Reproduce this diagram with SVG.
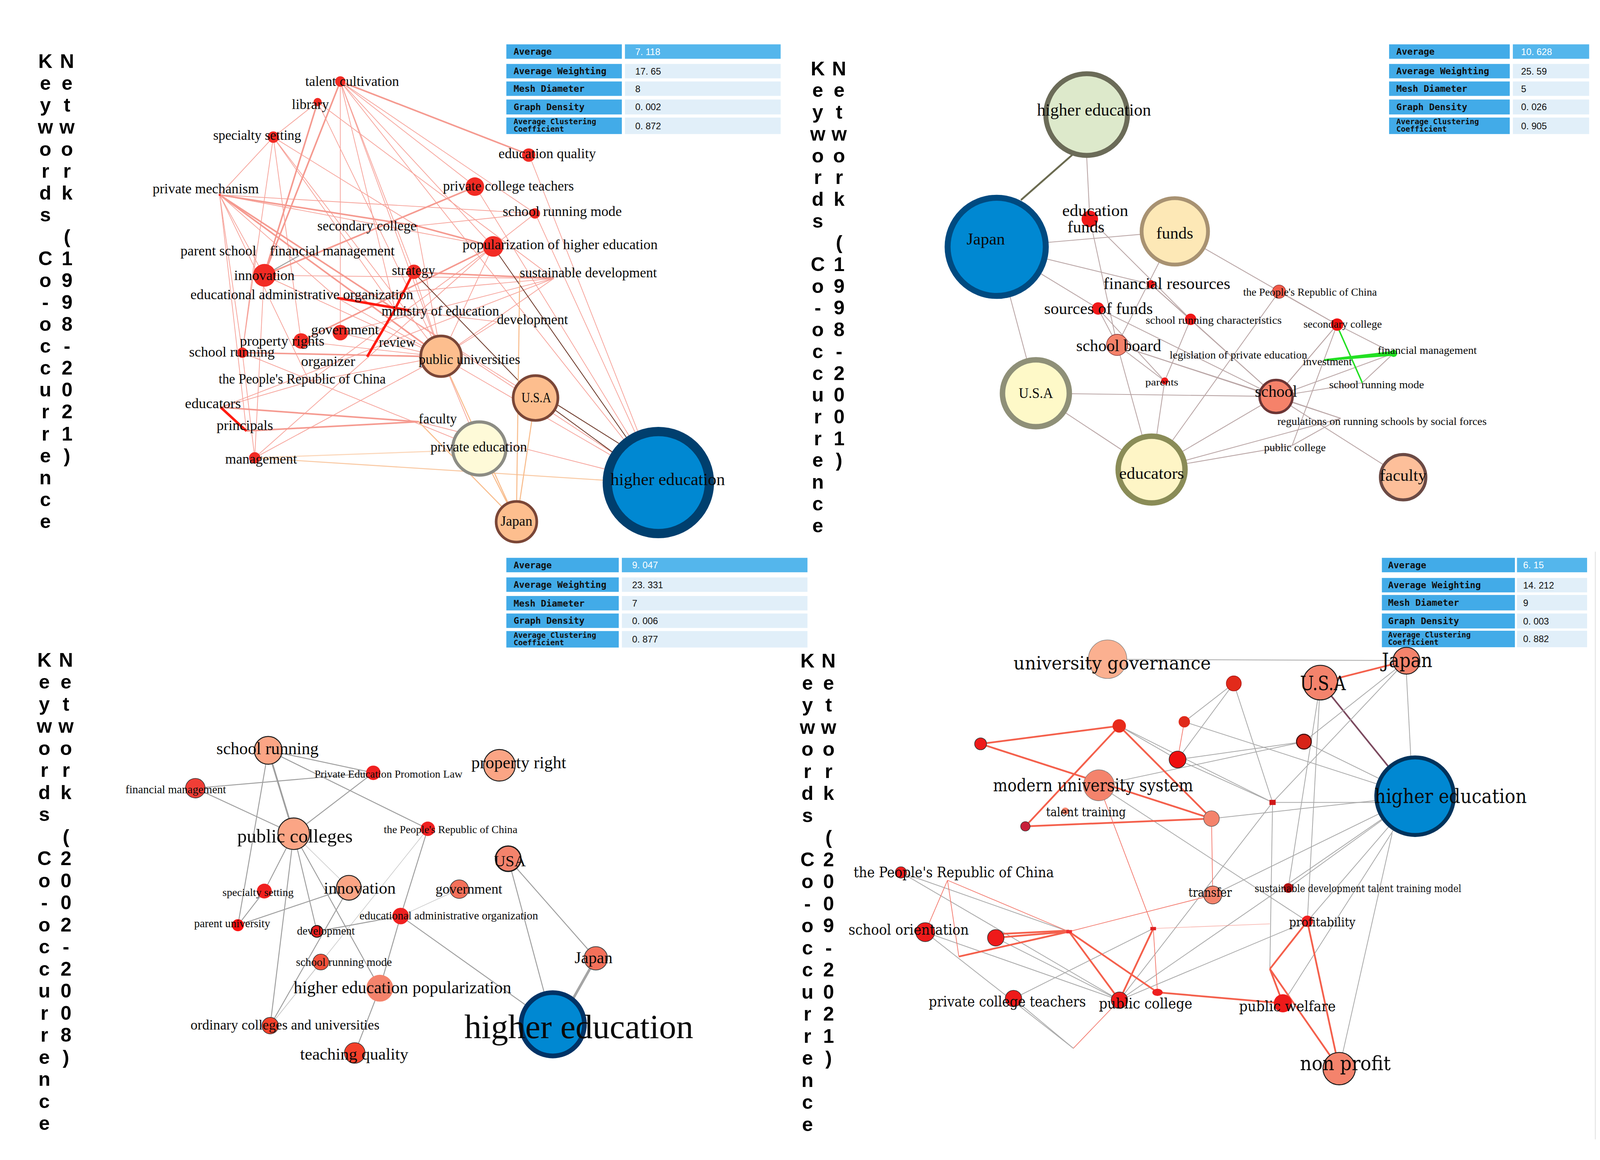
<svg xmlns="http://www.w3.org/2000/svg" width="4130" height="2970" viewBox="0 0 4130 2970">
<style>
.vt{font-family:"Liberation Sans",Arial,sans-serif;font-weight:bold;font-size:19px;fill:#000;text-anchor:middle}
.tk{fill:#42abe8}
.tv1{fill:#54b6ec}
.tv{fill:#e1eff9}
.tlab{font-family:"DejaVu Sans Mono",monospace;font-weight:bold;font-size:8.8px;fill:#111}
.tlab2{font-family:"DejaVu Sans Mono",monospace;font-weight:bold;font-size:7.4px;fill:#111}
.tval{font-family:"Liberation Sans",Arial,sans-serif;font-size:9px;fill:#111}
.tvw{font-family:"Liberation Sans",Arial,sans-serif;font-size:9px;fill:#fff}
.s{font-family:"Liberation Serif","Times New Roman",serif;fill:#0a0a0a}
.d{font-family:"DejaVu Serif",serif;fill:#0a0a0a}
.ea{stroke:#f6a198;stroke-width:0.7;fill:none}
.eb{stroke:#f59a90;stroke-width:1.5;fill:none}
.ec{stroke:#ff1a10;stroke-width:2.4;fill:none}
.ed{stroke:#6e3b2c;stroke-width:0.8;fill:none}
.ee{stroke:#f8bc8c;stroke-width:1;fill:none}
.eg{stroke:#9d9d9d;stroke-width:0.9;fill:none}
.eg2{stroke:#9d9d9d;stroke-width:1.6;fill:none}
.egl{stroke:#c8c8c8;stroke-width:0.6;fill:none}
.et{stroke:#b9a5a5;stroke-width:0.8;fill:none}
.r2{stroke:#f4604c;stroke-width:1.7;fill:none}
.rp{stroke:#f37a6e;stroke-width:0.7;fill:none}
.gg{stroke:#a8a8a8;stroke-width:0.75;fill:none}
.red{fill:#f22b24}
.pk{stroke:#1a1a1a;stroke-width:0.9}
</style>
<rect width="4130" height="2970" fill="#fff"/>
<g transform="scale(2.64)">

<!-- ================= TITLES ================= -->
<g id="title-tl" class="vt">
<text><tspan x="44" y="66">K</tspan><tspan x="44" y="87.2">e</tspan><tspan x="44" y="108.5">y</tspan><tspan x="44" y="129.7">w</tspan><tspan x="44" y="151">o</tspan><tspan x="44" y="172.2">r</tspan><tspan x="44" y="193.4">d</tspan><tspan x="44" y="214.7">s</tspan><tspan x="44" y="257.2">C</tspan><tspan x="44" y="278.4">o</tspan><tspan x="44" y="299.6">-</tspan><tspan x="44" y="320.9">o</tspan><tspan x="44" y="342.1">c</tspan><tspan x="44" y="363.4">c</tspan><tspan x="44" y="384.6">u</tspan><tspan x="44" y="405.8">r</tspan><tspan x="44" y="427.1">r</tspan><tspan x="44" y="448.3">e</tspan><tspan x="44" y="469.6">n</tspan><tspan x="44" y="490.8">c</tspan><tspan x="44" y="512">e</tspan></text>
<text><tspan x="65" y="66">N</tspan><tspan x="65" y="87.2">e</tspan><tspan x="65" y="108.5">t</tspan><tspan x="65" y="129.7">w</tspan><tspan x="65" y="151">o</tspan><tspan x="65" y="172.2">r</tspan><tspan x="65" y="193.4">k</tspan><tspan x="65" y="235.9">(</tspan><tspan x="65" y="257.2">1</tspan><tspan x="65" y="278.4">9</tspan><tspan x="65" y="299.6">9</tspan><tspan x="65" y="320.9">8</tspan><tspan x="65" y="342.1">-</tspan><tspan x="65" y="363.4">2</tspan><tspan x="65" y="384.6">0</tspan><tspan x="65" y="405.8">2</tspan><tspan x="65" y="427.1">1</tspan><tspan x="65" y="448.3">)</tspan></text>
</g>
<g id="title-tr" class="vt">
<text><tspan x="793" y="73">K</tspan><tspan x="793" y="94.1">e</tspan><tspan x="793" y="115.2">y</tspan><tspan x="793" y="136.3">w</tspan><tspan x="793" y="157.4">o</tspan><tspan x="793" y="178.5">r</tspan><tspan x="793" y="199.6">d</tspan><tspan x="793" y="220.7">s</tspan><tspan x="793" y="262.9">C</tspan><tspan x="793" y="284">o</tspan><tspan x="793" y="305.1">-</tspan><tspan x="793" y="326.2">o</tspan><tspan x="793" y="347.3">c</tspan><tspan x="793" y="368.4">c</tspan><tspan x="793" y="389.5">u</tspan><tspan x="793" y="410.6">r</tspan><tspan x="793" y="431.7">r</tspan><tspan x="793" y="452.8">e</tspan><tspan x="793" y="473.9">n</tspan><tspan x="793" y="495">c</tspan><tspan x="793" y="516.1">e</tspan></text>
<text><tspan x="813.7" y="73">N</tspan><tspan x="813.7" y="94.1">e</tspan><tspan x="813.7" y="115.2">t</tspan><tspan x="813.7" y="136.3">w</tspan><tspan x="813.7" y="157.4">o</tspan><tspan x="813.7" y="178.5">r</tspan><tspan x="813.7" y="199.6">k</tspan><tspan x="813.7" y="241.8">(</tspan><tspan x="813.7" y="262.9">1</tspan><tspan x="813.7" y="284">9</tspan><tspan x="813.7" y="305.1">9</tspan><tspan x="813.7" y="326.2">8</tspan><tspan x="813.7" y="347.3">-</tspan><tspan x="813.7" y="368.4">2</tspan><tspan x="813.7" y="389.5">0</tspan><tspan x="813.7" y="410.6">0</tspan><tspan x="813.7" y="431.7">1</tspan><tspan x="813.7" y="452.8">)</tspan></text>
</g>
<g id="title-bl" class="vt">
<text><tspan x="43" y="646.5">K</tspan><tspan x="43" y="667.9">e</tspan><tspan x="43" y="689.3">y</tspan><tspan x="43" y="710.7">w</tspan><tspan x="43" y="732.1">o</tspan><tspan x="43" y="753.5">r</tspan><tspan x="43" y="774.9">d</tspan><tspan x="43" y="796.3">s</tspan><tspan x="43" y="839.1">C</tspan><tspan x="43" y="860.5">o</tspan><tspan x="43" y="881.9">-</tspan><tspan x="43" y="903.3">o</tspan><tspan x="43" y="924.7">c</tspan><tspan x="43" y="946.1">c</tspan><tspan x="43" y="967.5">u</tspan><tspan x="43" y="988.9">r</tspan><tspan x="43" y="1010.3">r</tspan><tspan x="43" y="1031.7">e</tspan><tspan x="43" y="1053.1">n</tspan><tspan x="43" y="1074.5">c</tspan><tspan x="43" y="1095.9">e</tspan></text>
<text><tspan x="64" y="646.5">N</tspan><tspan x="64" y="667.9">e</tspan><tspan x="64" y="689.3">t</tspan><tspan x="64" y="710.7">w</tspan><tspan x="64" y="732.1">o</tspan><tspan x="64" y="753.5">r</tspan><tspan x="64" y="774.9">k</tspan><tspan x="64" y="817.7">(</tspan><tspan x="64" y="839.1">2</tspan><tspan x="64" y="860.5">0</tspan><tspan x="64" y="881.9">0</tspan><tspan x="64" y="903.3">2</tspan><tspan x="64" y="924.7">-</tspan><tspan x="64" y="946.1">2</tspan><tspan x="64" y="967.5">0</tspan><tspan x="64" y="988.9">0</tspan><tspan x="64" y="1010.3">8</tspan><tspan x="64" y="1031.7">)</tspan></text>
</g>
<g id="title-br" class="vt">
<text><tspan x="783" y="647.5">K</tspan><tspan x="783" y="668.9">e</tspan><tspan x="783" y="690.3">y</tspan><tspan x="783" y="711.7">w</tspan><tspan x="783" y="733.1">o</tspan><tspan x="783" y="754.5">r</tspan><tspan x="783" y="775.9">d</tspan><tspan x="783" y="797.3">s</tspan><tspan x="783" y="840.1">C</tspan><tspan x="783" y="861.5">o</tspan><tspan x="783" y="882.9">-</tspan><tspan x="783" y="904.3">o</tspan><tspan x="783" y="925.7">c</tspan><tspan x="783" y="947.1">c</tspan><tspan x="783" y="968.5">u</tspan><tspan x="783" y="989.9">r</tspan><tspan x="783" y="1011.3">r</tspan><tspan x="783" y="1032.7">e</tspan><tspan x="783" y="1054.1">n</tspan><tspan x="783" y="1075.5">c</tspan><tspan x="783" y="1096.9">e</tspan></text>
<text><tspan x="803.5" y="647.5">N</tspan><tspan x="803.5" y="668.9">e</tspan><tspan x="803.5" y="690.3">t</tspan><tspan x="803.5" y="711.7">w</tspan><tspan x="803.5" y="733.1">o</tspan><tspan x="803.5" y="754.5">r</tspan><tspan x="803.5" y="775.9">k</tspan><tspan x="803.5" y="818.7">(</tspan><tspan x="803.5" y="840.1">2</tspan><tspan x="803.5" y="861.5">0</tspan><tspan x="803.5" y="882.9">0</tspan><tspan x="803.5" y="904.3">9</tspan><tspan x="803.5" y="925.7">-</tspan><tspan x="803.5" y="947.1">2</tspan><tspan x="803.5" y="968.5">0</tspan><tspan x="803.5" y="989.9">2</tspan><tspan x="803.5" y="1011.3">1</tspan><tspan x="803.5" y="1032.7">)</tspan></text>
</g>

<!-- ================= TABLES ================= -->
<g id="stats-tl">
<rect class="tk" x="491" y="43" width="112" height="14"/><rect class="tv1" x="606" y="43" width="151" height="14"/>
<rect class="tk" x="491" y="62" width="112" height="14"/><rect class="tv" x="606" y="62" width="151" height="14"/>
<rect class="tk" x="491" y="79" width="112" height="14"/><rect class="tv" x="606" y="79" width="151" height="14"/>
<rect class="tk" x="491" y="96.5" width="112" height="14.5"/><rect class="tv" x="606" y="96.5" width="151" height="14.5"/>
<rect class="tk" x="491" y="114" width="112" height="16"/><rect class="tv" x="606" y="114" width="151" height="16"/>
<text class="tlab" x="498" y="53.1">Average</text><text class="tvw" x="616" y="53.3">7. 118</text>
<text class="tlab" x="498" y="72.1">Average Weighting</text><text class="tval" x="616" y="72.3">17. 65</text>
<text class="tlab" x="498" y="89.1">Mesh Diameter</text><text class="tval" x="616" y="89.3">8</text>
<text class="tlab" x="498" y="106.8">Graph Density</text><text class="tval" x="616" y="107">0. 002</text>
<text class="tlab2" x="498" y="120.5">Average Clustering</text><text class="tlab2" x="498" y="127.8">Coefficient</text><text class="tval" x="616" y="125.2">0. 872</text>
</g>
<g id="stats-tr">
<rect class="tk" x="1347" y="43" width="117" height="14"/><rect class="tv1" x="1467" y="43" width="74" height="14"/>
<rect class="tk" x="1347" y="62" width="117" height="14"/><rect class="tv" x="1467" y="62" width="74" height="14"/>
<rect class="tk" x="1347" y="79" width="117" height="14"/><rect class="tv" x="1467" y="79" width="74" height="14"/>
<rect class="tk" x="1347" y="96.5" width="117" height="14.5"/><rect class="tv" x="1467" y="96.5" width="74" height="14.5"/>
<rect class="tk" x="1347" y="114" width="117" height="16"/><rect class="tv" x="1467" y="114" width="74" height="16"/>
<text class="tlab" x="1354" y="53.1">Average</text><text class="tvw" x="1475" y="53.3">10. 628</text>
<text class="tlab" x="1354" y="72.1">Average Weighting</text><text class="tval" x="1475" y="72.3">25. 59</text>
<text class="tlab" x="1354" y="89.1">Mesh Diameter</text><text class="tval" x="1475" y="89.3">5</text>
<text class="tlab" x="1354" y="106.8">Graph Density</text><text class="tval" x="1475" y="107">0. 026</text>
<text class="tlab2" x="1354" y="120.5">Average Clustering</text><text class="tlab2" x="1354" y="127.8">Coefficient</text><text class="tval" x="1475" y="125.2">0. 905</text>
</g>
<g id="stats-bl">
<rect class="tk" x="491" y="541" width="109" height="14"/><rect class="tv1" x="603" y="541" width="180" height="14"/>
<rect class="tk" x="491" y="560" width="109" height="14"/><rect class="tv" x="603" y="560" width="180" height="14"/>
<rect class="tk" x="491" y="578" width="109" height="14"/><rect class="tv" x="603" y="578" width="180" height="14"/>
<rect class="tk" x="491" y="595" width="109" height="14"/><rect class="tv" x="603" y="595" width="180" height="14"/>
<rect class="tk" x="491" y="612" width="109" height="16"/><rect class="tv" x="603" y="612" width="180" height="16"/>
<text class="tlab" x="498" y="551.1">Average</text><text class="tvw" x="613" y="551.3">9. 047</text>
<text class="tlab" x="498" y="570.1">Average Weighting</text><text class="tval" x="613" y="570.3">23. 331</text>
<text class="tlab" x="498" y="588.1">Mesh Diameter</text><text class="tval" x="613" y="588.3">7</text>
<text class="tlab" x="498" y="605.1">Graph Density</text><text class="tval" x="613" y="605.3">0. 006</text>
<text class="tlab2" x="498" y="618.5">Average Clustering</text><text class="tlab2" x="498" y="625.8">Coefficient</text><text class="tval" x="613" y="623.2">0. 877</text>
</g>
<g id="stats-br">
<rect class="tk" x="1340" y="541" width="129" height="14"/><rect class="tv1" x="1471" y="541" width="68" height="14"/>
<rect class="tk" x="1340" y="560.5" width="129" height="14"/><rect class="tv" x="1471" y="560.5" width="68" height="14"/>
<rect class="tk" x="1340" y="577" width="129" height="15"/><rect class="tv" x="1471" y="577" width="68" height="15"/>
<rect class="tk" x="1340" y="595" width="129" height="14.5"/><rect class="tv" x="1471" y="595" width="68" height="14.5"/>
<rect class="tk" x="1340" y="611.7" width="129" height="16"/><rect class="tv" x="1471" y="611.7" width="68" height="16"/>
<text class="tlab" x="1346" y="551.1">Average</text><text class="tvw" x="1477" y="551.3">6. 15</text>
<text class="tlab" x="1346" y="570.6">Average Weighting</text><text class="tval" x="1477" y="570.8">14. 212</text>
<text class="tlab" x="1346" y="587.6">Mesh Diameter</text><text class="tval" x="1477" y="587.8">9</text>
<text class="tlab" x="1346" y="605.3">Graph Density</text><text class="tval" x="1477" y="605.5">0. 003</text>
<text class="tlab2" x="1346" y="618.2">Average Clustering</text><text class="tlab2" x="1346" y="625.5">Coefficient</text><text class="tval" x="1477" y="622.9">0. 882</text>
</g>
<line x1="1547" y1="535" x2="1547" y2="1105" stroke="#e6e6e6" stroke-width="1"/>

<!-- ================= TL CONNECTORS ================= -->
<g id="connectors-tl">
<line class="ea" x1="330" y1="79" x2="330" y2="323"/>
<line class="ea" x1="330" y1="79" x2="383" y2="300"/>
<line class="ea" x1="330" y1="79" x2="428" y2="346"/>
<line class="ea" x1="330" y1="79" x2="478" y2="239"/>
<line class="ea" x1="330" y1="79" x2="519" y2="207"/>
<line class="ea" x1="330" y1="79" x2="638" y2="468"/>
<line class="ea" x1="330" y1="79" x2="401" y2="264"/>
<line class="ea" x1="330" y1="79" x2="461" y2="181"/>
<line class="ea" x1="308" y1="99" x2="265" y2="133"/>
<line class="ea" x1="308" y1="99" x2="428" y2="346"/>
<line class="ea" x1="308" y1="99" x2="537" y2="270"/>
<line class="ea" x1="265" y1="133" x2="213" y2="189"/>
<line class="ea" x1="265" y1="133" x2="292" y2="331"/>
<line class="ea" x1="265" y1="133" x2="383" y2="300"/>
<line class="ea" x1="265" y1="133" x2="428" y2="346"/>
<line class="ea" x1="265" y1="133" x2="235" y2="342"/>
<line class="ea" x1="265" y1="133" x2="404" y2="219"/>
<line class="ea" x1="213" y1="189" x2="256" y2="267"/>
<line class="ea" x1="213" y1="189" x2="235" y2="342"/>
<line class="ea" x1="213" y1="189" x2="327" y2="289"/>
<line class="ea" x1="213" y1="189" x2="519" y2="207"/>
<line class="ea" x1="213" y1="189" x2="300" y2="370"/>
<line class="ea" x1="213" y1="189" x2="239" y2="418"/>
<line class="ea" x1="213" y1="189" x2="478" y2="239"/>
<line class="ea" x1="404" y1="219" x2="519" y2="207"/>
<line class="ea" x1="404" y1="219" x2="428" y2="346"/>
<line class="ea" x1="248" y1="242" x2="235" y2="342"/>
<line class="ea" x1="256" y1="267" x2="247" y2="444"/>
<line class="ea" x1="256" y1="267" x2="428" y2="346"/>
<line class="ea" x1="256" y1="267" x2="537" y2="270"/>
<line class="ea" x1="401" y1="264" x2="428" y2="346"/>
<line class="ea" x1="327" y1="289" x2="428" y2="346"/>
<line class="ea" x1="327" y1="289" x2="537" y2="270"/>
<line class="ea" x1="383" y1="300" x2="482" y2="312"/>
<line class="ea" x1="383" y1="300" x2="638" y2="468"/>
<line class="ea" x1="383" y1="300" x2="519" y2="386"/>
<line class="ea" x1="330" y1="323" x2="428" y2="346"/>
<line class="ea" x1="330" y1="323" x2="537" y2="270"/>
<line class="ea" x1="235" y1="342" x2="247" y2="444"/>
<line class="ea" x1="235" y1="342" x2="465" y2="435"/>
<line class="ea" x1="428" y1="346" x2="478" y2="239"/>
<line class="ea" x1="428" y1="346" x2="537" y2="270"/>
<line class="ea" x1="428" y1="346" x2="482" y2="312"/>
<line class="ea" x1="428" y1="346" x2="638" y2="468"/>
<line class="ea" x1="428" y1="346" x2="465" y2="435"/>
<line class="ea" x1="300" y1="370" x2="428" y2="346"/>
<line class="ea" x1="300" y1="370" x2="478" y2="239"/>
<line class="ea" x1="300" y1="370" x2="214" y2="395"/>
<line class="ea" x1="214" y1="395" x2="537" y2="270"/>
<line class="ea" x1="406" y1="409" x2="638" y2="468"/>
<line class="ea" x1="247" y1="444" x2="478" y2="239"/>
<line class="ea" x1="247" y1="444" x2="428" y2="346"/>
<line class="ea" x1="513" y1="150" x2="638" y2="468"/>
<line class="ea" x1="519" y1="207" x2="638" y2="468"/>
<line class="ea" x1="519" y1="207" x2="478" y2="239"/>
<line class="ea" x1="292" y1="331" x2="428" y2="346"/>
<line class="ea" x1="461" y1="181" x2="638" y2="468"/>
<line class="eb" x1="330" y1="79" x2="513" y2="150"/>
<line class="eb" x1="330" y1="79" x2="256" y2="267"/>
<line class="eb" x1="308" y1="99" x2="256" y2="267"/>
<line class="eb" x1="213" y1="189" x2="383" y2="300"/>
<line class="eb" x1="213" y1="189" x2="428" y2="346"/>
<line class="eb" x1="213" y1="189" x2="404" y2="219"/>
<line class="eb" x1="404" y1="219" x2="478" y2="239"/>
<line class="eb" x1="256" y1="267" x2="461" y2="181"/>
<line class="eb" x1="401" y1="264" x2="537" y2="270"/>
<line class="eb" x1="235" y1="342" x2="428" y2="346"/>
<line class="eb" x1="292" y1="331" x2="478" y2="239"/>
<line class="eb" x1="214" y1="395" x2="406" y2="409"/>
<line class="eb" x1="239" y1="418" x2="406" y2="409"/>
<line class="ec" x1="401" y1="264" x2="383" y2="300"/>
<line class="ec" x1="383" y1="300" x2="356" y2="346"/>
<line class="ec" x1="327" y1="289" x2="397" y2="301"/>
<line class="ec" x1="214" y1="395" x2="239" y2="418"/>
<line class="ed" x1="401" y1="264" x2="519" y2="386"/>
<line class="ed" x1="478" y1="239" x2="638" y2="468"/>
<line class="ed" x1="536" y1="396" x2="596" y2="440" stroke-width="1.2"/>
<line class="ed" x1="538" y1="391" x2="600" y2="430" stroke-width="1.2"/>
<line class="ee" x1="247" y1="444" x2="590" y2="466" opacity="0.8"/>
<line class="ee" x1="247" y1="444" x2="439" y2="437" opacity="0.6"/>
<line class="ee" x1="428" y1="346" x2="501" y2="506"/>
<line class="ee" x1="465" y1="435" x2="501" y2="506"/>
<line class="ee" x1="519" y1="386" x2="501" y2="506"/>
<line class="ee" x1="406" y1="409" x2="501" y2="506"/>
<line class="ee" x1="504" y1="265" x2="501" y2="485"/>
<line class="eg" x1="256" y1="267" x2="290" y2="248" stroke-width="0.6"/>
</g>

<!-- ================= TL NODES ================= -->
<g id="tl-higher-education"><circle cx="638.4" cy="468" r="49.5" fill="#0088d2" stroke="#003f6e" stroke-width="9"/><text class="s" x="592" y="470.5" font-size="16.5" textLength="111" lengthAdjust="spacingAndGlyphs">higher education</text></g>
<g id="tl-private-education"><circle cx="464.8" cy="435" r="25.8" fill="#fefad8" stroke="#8c8c84" stroke-width="3"/><text class="s" x="417.4" y="438" font-size="13.5" textLength="93.6" lengthAdjust="spacingAndGlyphs">private education</text></g>
<g id="tl-public-universities"><circle cx="427.7" cy="345.5" r="19.7" fill="#fdbe8e" stroke="#7a4637" stroke-width="2.6"/><text class="s" x="406" y="353" font-size="13.5" textLength="98.5" lengthAdjust="spacingAndGlyphs">public universities</text></g>
<g id="tl-usa"><circle cx="519.3" cy="386" r="21.7" fill="#fdbe8e" stroke="#7a4637" stroke-width="2.6"/><text class="s" x="505.7" y="390" font-size="13.5" textLength="28.7" lengthAdjust="spacingAndGlyphs">U.S.A</text></g>
<g id="tl-japan"><circle cx="500.8" cy="506" r="19.7" fill="#fdbe8e" stroke="#7a4637" stroke-width="2.6"/><text class="s" x="485.4" y="510" font-size="13.5" textLength="30.8" lengthAdjust="spacingAndGlyphs">Japan</text></g>
<g id="tl-talent-cultivation"><circle class="red" cx="330" cy="79" r="5"/><text class="s" x="296" y="83.3" font-size="13.5" textLength="91" lengthAdjust="spacingAndGlyphs">talent cultivation</text></g>
<g id="tl-library"><circle class="red" cx="308" cy="99" r="4"/><text class="s" x="283" y="105.5" font-size="13.5" textLength="36" lengthAdjust="spacingAndGlyphs">library</text></g>
<g id="tl-specialty-setting"><circle class="red" cx="265" cy="133" r="5.5"/><text class="s" x="206.7" y="135.5" font-size="13.5" textLength="85.3" lengthAdjust="spacingAndGlyphs">specialty setting</text></g>
<g id="tl-private-mechanism"><circle class="red" cx="213" cy="189" r="1"/><text class="s" x="148" y="187.5" font-size="13.5" textLength="103" lengthAdjust="spacingAndGlyphs">private mechanism</text></g>
<g id="tl-secondary-college"><circle class="red" cx="404" cy="219" r="1"/><text class="s" x="307.7" y="223.5" font-size="13.5" textLength="96.3" lengthAdjust="spacingAndGlyphs">secondary college</text></g>
<g id="tl-parent-school"><text class="s" x="175" y="247.6" font-size="13.5" textLength="73.5" lengthAdjust="spacingAndGlyphs">parent school</text></g>
<g id="tl-financial-management"><text class="s" x="261.7" y="247.6" font-size="13.5" textLength="121" lengthAdjust="spacingAndGlyphs">financial management</text></g>
<g id="tl-innovation"><circle class="red" cx="256.4" cy="267" r="11"/><text class="s" x="227" y="271.6" font-size="13.5" textLength="58.6" lengthAdjust="spacingAndGlyphs">innovation</text></g>
<g id="tl-strategy"><circle class="red" cx="401.4" cy="263.6" r="7"/><text class="s" x="380" y="266.5" font-size="13.5" textLength="42" lengthAdjust="spacingAndGlyphs">strategy</text></g>
<g id="tl-educational-administrative-organization"><text class="s" x="184.7" y="290" font-size="13.5" textLength="216" lengthAdjust="spacingAndGlyphs">educational administrative organization</text></g>
<g id="tl-ministry-of-education"><text class="s" x="370" y="306" font-size="13.5" textLength="114" lengthAdjust="spacingAndGlyphs">ministry of education</text></g>
<g id="tl-development"><text class="s" x="481.8" y="314.5" font-size="13.5" textLength="69" lengthAdjust="spacingAndGlyphs">development</text></g>
<g id="tl-government"><circle class="red" cx="330" cy="322.6" r="7.5"/><text class="s" x="301.7" y="324.3" font-size="13.5" textLength="65.7" lengthAdjust="spacingAndGlyphs">government</text></g>
<g id="tl-property-rights"><circle class="red" cx="292" cy="330.7" r="7.5"/><text class="s" x="232.6" y="335.3" font-size="13.5" textLength="82" lengthAdjust="spacingAndGlyphs">property rights</text></g>
<g id="tl-review"><text class="s" x="367.4" y="336.2" font-size="13.5" textLength="35.6" lengthAdjust="spacingAndGlyphs">review</text></g>
<g id="tl-school-running"><circle class="red" cx="235" cy="342" r="5"/><text class="s" x="183.3" y="345.8" font-size="13.5" textLength="83" lengthAdjust="spacingAndGlyphs">school running</text></g>
<g id="tl-organizer"><text class="s" x="292" y="355" font-size="13.5" textLength="52.4" lengthAdjust="spacingAndGlyphs">organizer</text></g>
<g id="tl-prc"><text class="s" x="212" y="372" font-size="13.5" textLength="162" lengthAdjust="spacingAndGlyphs">the People's Republic of China</text></g>
<g id="tl-educators"><text class="s" x="179.4" y="396" font-size="13.5" textLength="54.2" lengthAdjust="spacingAndGlyphs">educators</text></g>
<g id="tl-principals"><text class="s" x="210" y="417" font-size="13.5" textLength="54.8" lengthAdjust="spacingAndGlyphs">principals</text></g>
<g id="tl-faculty"><text class="s" x="406" y="410.6" font-size="13.5" textLength="37" lengthAdjust="spacingAndGlyphs">faculty</text></g>
<g id="tl-management"><circle class="red" cx="247" cy="444" r="5.5"/><text class="s" x="218.4" y="449.8" font-size="13.5" textLength="69.6" lengthAdjust="spacingAndGlyphs">management</text></g>
<g id="tl-education-quality"><circle class="red" cx="512.7" cy="150.4" r="6.5"/><text class="s" x="483.4" y="153.4" font-size="13.5" textLength="94.5" lengthAdjust="spacingAndGlyphs">education quality</text></g>
<g id="tl-private-college-teachers"><circle class="red" cx="460.5" cy="181" r="9"/><text class="s" x="429.5" y="184.9" font-size="13.5" textLength="127" lengthAdjust="spacingAndGlyphs">private college teachers</text></g>
<g id="tl-school-running-mode"><circle class="red" cx="518.7" cy="207" r="5"/><text class="s" x="487.5" y="209.6" font-size="13.5" textLength="115.4" lengthAdjust="spacingAndGlyphs">school running mode</text></g>
<g id="tl-popularization"><circle class="red" cx="478.3" cy="239" r="10"/><text class="s" x="448.5" y="241.5" font-size="13.5" textLength="189.2" lengthAdjust="spacingAndGlyphs">popularization of higher education</text></g>
<g id="tl-sustainable-development"><text class="s" x="504" y="269" font-size="13.5" textLength="133" lengthAdjust="spacingAndGlyphs">sustainable development</text></g>

<!-- ================= TR CONNECTORS ================= -->
<g id="connectors-tr">
<line x1="1040" y1="150" x2="990" y2="194" stroke="#6b6b50" stroke-width="1.8"/>
<line class="et" x1="1053.7" y1="151" x2="1056.8" y2="212.3"/>
<line class="et" x1="1056.8" y1="212.3" x2="1083.3" y2="334.5"/>
<line class="et" x1="1056.8" y1="212.3" x2="1154.5" y2="309.7"/>
<line class="et" x1="966.5" y1="239.4" x2="1139.2" y2="224.4"/>
<line class="et" x1="966.5" y1="239.4" x2="1116" y2="275.7"/>
<line class="et" x1="1116" y1="275.7" x2="1237.4" y2="384.5"/>
<line class="et" x1="966.5" y1="239.4" x2="1064.8" y2="299.2"/>
<line class="et" x1="966.5" y1="239.4" x2="1004.5" y2="381.4"/>
<line class="et" x1="1139.2" y1="224.4" x2="1083.3" y2="334.5"/>
<line class="et" x1="1139.2" y1="224.4" x2="1296.6" y2="314.8"/>
<line class="et" x1="1116" y1="275.7" x2="1154.5" y2="309.7"/>
<line class="et" x1="1064.8" y1="299.2" x2="1083.3" y2="334.5"/>
<line class="et" x1="1064.8" y1="299.2" x2="1129.4" y2="369.5"/>
<line class="et" x1="1064.8" y1="299.2" x2="1237.4" y2="384.5"/>
<line class="et" x1="1154.5" y1="309.7" x2="1129.4" y2="369.5"/>
<line class="et" x1="1129.4" y1="369.5" x2="1116.7" y2="455.4"/>
<line class="et" x1="1154.5" y1="309.7" x2="1237.4" y2="384.5"/>
<line class="et" x1="1240.3" y1="282.9" x2="1116.7" y2="455.4"/>
<line class="et" x1="1240.3" y1="282.9" x2="1296.6" y2="314.8"/>
<line class="et" x1="1083.3" y1="334.5" x2="1116.7" y2="455.4"/>
<line class="et" x1="1083.3" y1="334.5" x2="1237.4" y2="384.5"/>
<line class="et" x1="1083.3" y1="334.5" x2="1129.4" y2="369.5"/>
<line class="et" x1="1083.3" y1="334.5" x2="1300" y2="405.7"/>
<line class="et" x1="1004.5" y1="381.4" x2="1237.4" y2="384.5"/>
<line class="et" x1="1004.5" y1="381.4" x2="1116.7" y2="455.4"/>
<line class="et" x1="1116.7" y1="455.4" x2="1237.4" y2="384.5"/>
<line class="et" x1="1116.7" y1="455.4" x2="1300" y2="405.7"/>
<line class="et" x1="1116.7" y1="455.4" x2="1253" y2="432"/>
<line class="et" x1="1237.4" y1="384.5" x2="1296.6" y2="314.8"/>
<line class="et" x1="1237.4" y1="384.5" x2="1351.4" y2="342.7"/>
<line class="et" x1="1237.4" y1="384.5" x2="1321" y2="371.2"/>
<line class="et" x1="1237.4" y1="384.5" x2="1300" y2="405.7"/>
<line class="et" x1="1237.4" y1="384.5" x2="1360.6" y2="462.8"/>
<line class="et" x1="1296.6" y1="314.8" x2="1253" y2="432"/>
<line class="et" x1="1351.4" y1="342.7" x2="1321" y2="371.2"/>
<line class="et" x1="1296.6" y1="314.8" x2="1351.4" y2="342.7" stroke-width="0.5"/>
<line class="et" x1="1300" y1="405.7" x2="1253" y2="432"/>
<line class="et" x1="1296.6" y1="314.8" x2="1237.4" y2="384.5"/>
<polygon points="1284,348.3 1351.4,340.4 1351.4,345 1284,350.2" fill="#22e022"/>
<line x1="1296.6" y1="316" x2="1321" y2="371.2" stroke="#22e022" stroke-width="1.4"/>
</g>

<!-- ================= TR NODES ================= -->
<g id="tr-higher-education"><circle cx="1053.7" cy="111.1" r="39.6" fill="#dde9cb" stroke="#6b6b58" stroke-width="4.8"/><text class="s" x="1005.6" y="112" font-size="16.5" textLength="110.5" lengthAdjust="spacingAndGlyphs">higher education</text></g>
<g id="tr-japan"><circle cx="966.5" cy="239.4" r="47.6" fill="#0088d2" stroke="#004a80" stroke-width="5.8"/><text class="s" x="937.3" y="237" font-size="16" textLength="37.2" lengthAdjust="spacingAndGlyphs">Japan</text></g>
<g id="tr-funds"><circle cx="1139.2" cy="224.4" r="32.2" fill="#fde8b6" stroke="#a89272" stroke-width="3.7"/><text class="s" x="1121.2" y="231.3" font-size="16" textLength="35.9" lengthAdjust="spacingAndGlyphs">funds</text></g>
<g id="tr-usa"><circle cx="1004.5" cy="381.4" r="32.4" fill="#fef9c8" stroke="#8f9078" stroke-width="5.3"/><text class="s" x="987.9" y="386" font-size="14" textLength="33.2" lengthAdjust="spacingAndGlyphs">U.S.A</text></g>
<g id="tr-educators"><circle cx="1116.7" cy="455.4" r="32.4" fill="#fef5c6" stroke="#8a8c57" stroke-width="5.3"/><text class="s" x="1085.2" y="464.4" font-size="16" textLength="63" lengthAdjust="spacingAndGlyphs">educators</text></g>
<g id="tr-faculty"><circle cx="1360.6" cy="462.8" r="22" fill="#fdbf9a" stroke="#6b4a45" stroke-width="3"/><text class="s" x="1338" y="466.3" font-size="16" textLength="45.2" lengthAdjust="spacingAndGlyphs">faculty</text></g>
<g id="tr-school"><circle cx="1237.4" cy="384.5" r="16" fill="#f5826a" stroke="#6b3535" stroke-width="2.4"/><text class="s" x="1216.9" y="385" font-size="16" textLength="41" lengthAdjust="spacingAndGlyphs">school</text></g>
<g id="tr-school-board"><circle cx="1083.3" cy="334.5" r="10.3" fill="#f5826a" stroke="#8a3a3a" stroke-width="0.6"/><text class="s" x="1043.6" y="340.5" font-size="16" textLength="82.4" lengthAdjust="spacingAndGlyphs">school board</text></g>
<g id="tr-education-funds"><circle cx="1056.8" cy="212.3" r="8" fill="#f01818"/><text class="s" x="1030" y="209.3" font-size="16" textLength="64" lengthAdjust="spacingAndGlyphs">education</text><text class="s" x="1035" y="225.3" font-size="16" textLength="36" lengthAdjust="spacingAndGlyphs">funds</text></g>
<g id="tr-financial-resources"><circle cx="1116" cy="275.7" r="4" fill="#f01818"/><text class="s" x="1070" y="280.2" font-size="16" textLength="123" lengthAdjust="spacingAndGlyphs">financial resources</text></g>
<g id="tr-sources-of-funds"><circle cx="1064.8" cy="299.2" r="6" fill="#f01818"/><text class="s" x="1012.5" y="304.4" font-size="16" textLength="105.4" lengthAdjust="spacingAndGlyphs">sources of funds</text></g>
<g id="tr-school-running-characteristics"><circle cx="1154.5" cy="309.7" r="5.5" fill="#f01818"/><text class="s" x="1111" y="313.9" font-size="10.5" textLength="131.8" lengthAdjust="spacingAndGlyphs">school running characteristics</text></g>
<g id="tr-prc"><circle cx="1240.3" cy="282.9" r="6.5" fill="#f25a48" stroke="#8a3a3a" stroke-width="0.5"/><text class="s" x="1205.5" y="286.7" font-size="10.5" textLength="129.7" lengthAdjust="spacingAndGlyphs">the People's Republic of China</text></g>
<g id="tr-secondary-college"><circle cx="1296.6" cy="314.8" r="6" fill="#f01010"/><text class="s" x="1264" y="317.8" font-size="10.5" textLength="76" lengthAdjust="spacingAndGlyphs">secondary college</text></g>
<g id="tr-financial-management"><circle cx="1351.4" cy="342.7" r="3.5" fill="#22e022"/><text class="s" x="1336" y="343" font-size="10.5" textLength="96" lengthAdjust="spacingAndGlyphs">financial management</text></g>
<g id="tr-investment"><text class="s" x="1263.5" y="354" font-size="10.5" textLength="47.5" lengthAdjust="spacingAndGlyphs">investment</text></g>
<g id="tr-school-running-mode"><text class="s" x="1288.9" y="376.7" font-size="10.5" textLength="92" lengthAdjust="spacingAndGlyphs">school running mode</text></g>
<g id="tr-legislation"><text class="s" x="1134.2" y="347.7" font-size="10.5" textLength="133.4" lengthAdjust="spacingAndGlyphs">legislation of private education</text></g>
<g id="tr-parents"><circle cx="1129.4" cy="369.5" r="3.5" fill="#f01818"/><text class="s" x="1110.6" y="373.7" font-size="9.5" textLength="32" lengthAdjust="spacingAndGlyphs">parents</text></g>
<g id="tr-regulations"><text class="s" x="1238.6" y="412" font-size="10.5" textLength="203" lengthAdjust="spacingAndGlyphs">regulations on running schools by social forces</text></g>
<g id="tr-public-college"><text class="s" x="1225.8" y="437.4" font-size="10.5" textLength="59.8" lengthAdjust="spacingAndGlyphs">public college</text></g>

<!-- ================= BL CONNECTORS ================= -->
<g id="connectors-bl">
<line class="eg" x1="260.1" y1="727.7" x2="362" y2="749.5"/>
<line class="eg" x1="260.1" y1="727.7" x2="414.8" y2="803.8"/>
<line class="eg2" x1="260.1" y1="727.7" x2="284.8" y2="808.6"/>
<line class="eg" x1="260.1" y1="727.7" x2="230.7" y2="897.3"/>
<line class="eg" x1="189.4" y1="764.4" x2="362" y2="749.5" stroke-width="1.2"/>
<line class="eg" x1="189.4" y1="764.4" x2="284.8" y2="808.6" stroke-width="1.2"/>
<line class="eg" x1="362" y1="749.5" x2="284.8" y2="808.6"/>
<line class="eg" x1="284.8" y1="808.6" x2="256.3" y2="864.2"/>
<line class="eg" x1="284.8" y1="808.6" x2="262" y2="994.7"/>
<line class="eg" x1="284.8" y1="808.6" x2="307.3" y2="903.3"/>
<line class="egl" x1="284.8" y1="808.6" x2="338.3" y2="861"/>
<line class="eg" x1="284.8" y1="808.6" x2="368.3" y2="958.4"/>
<line class="eg" x1="256.3" y1="864.2" x2="230.7" y2="897.3"/>
<line class="eg" x1="230.7" y1="897.3" x2="338.3" y2="861" stroke-width="1.2"/>
<line class="eg" x1="338.3" y1="861" x2="262" y2="994.7"/>
<line class="eg" x1="414.8" y1="803.8" x2="388.5" y2="888.4" stroke-width="1.2"/>
<line class="egl" x1="414.8" y1="803.8" x2="262" y2="994.7"/>
<line class="eg" x1="388.5" y1="888.4" x2="307.3" y2="903.3"/>
<line class="egl" x1="388.5" y1="888.4" x2="445.3" y2="862.3"/>
<line class="eg" x1="388.5" y1="888.4" x2="368.3" y2="958.4" stroke-width="1.2"/>
<line class="eg" x1="388.5" y1="888.4" x2="536" y2="993.4"/>
<line class="eg" x1="492.8" y1="832.8" x2="536" y2="993.4"/>
<line class="eg" x1="492.8" y1="832.8" x2="577.8" y2="929.4"/>
<line x1="577.8" y1="929.4" x2="556" y2="968" stroke="#a5a5a5" stroke-width="2.5"/>
<line class="eg" x1="368.3" y1="958.4" x2="344" y2="1021.2"/>
<line class="egl" x1="311.1" y1="933" x2="262" y2="994.7"/>
</g>

<!-- ================= BL NODES ================= -->
<g id="bl-school-running"><circle class="pk" cx="260.1" cy="727.7" r="13.5" fill="#fba585"/><text class="s" x="209.9" y="731.3" font-size="16.5" textLength="99.1" lengthAdjust="spacingAndGlyphs">school running</text></g>
<g id="bl-property-right"><circle class="pk" cx="484.3" cy="742.2" r="15.3" fill="#fba585"/><text class="s" x="457" y="745" font-size="16.5" textLength="92" lengthAdjust="spacingAndGlyphs">property right</text></g>
<g id="bl-private-education-promotion-law"><circle cx="362" cy="749.5" r="7" fill="#f02020"/><text class="s" x="305" y="754" font-size="10.5" textLength="143.4" lengthAdjust="spacingAndGlyphs">Private Education Promotion Law</text></g>
<g id="bl-financial-management"><circle cx="189.4" cy="764.4" r="9.5" fill="#f03e36" stroke="#333" stroke-width="0.6"/><text class="s" x="121.7" y="769.4" font-size="11" textLength="97.5" lengthAdjust="spacingAndGlyphs">financial management</text></g>
<g id="bl-public-colleges"><circle class="pk" cx="284.8" cy="808.6" r="15.3" fill="#fba585"/><text class="s" x="230" y="817" font-size="18.5" textLength="112" lengthAdjust="spacingAndGlyphs">public colleges</text></g>
<g id="bl-prc"><circle cx="414.8" cy="803.8" r="7" fill="#f02020"/><text class="s" x="372.2" y="808" font-size="10.5" textLength="129.5" lengthAdjust="spacingAndGlyphs">the People's Republic of China</text></g>
<g id="bl-usa"><circle cx="492.8" cy="832.8" r="12.3" fill="#f4836c" stroke="#1a1a1a" stroke-width="1.3"/><text class="s" x="479" y="840" font-size="15.5" textLength="31" lengthAdjust="spacingAndGlyphs">USA</text></g>
<g id="bl-specialty-setting"><circle cx="256.3" cy="864.2" r="7.2" fill="#f02020"/><text class="s" x="215.7" y="869" font-size="10.7" textLength="69" lengthAdjust="spacingAndGlyphs">specialty setting</text></g>
<g id="bl-innovation"><circle class="pk" cx="338.3" cy="861" r="12" fill="#fba585"/><text class="s" x="314" y="866.6" font-size="16" textLength="69.7" lengthAdjust="spacingAndGlyphs">innovation</text></g>
<g id="bl-government"><circle cx="445.3" cy="862.3" r="9" fill="#f4705a" stroke="#333" stroke-width="0.6"/><text class="s" x="422.4" y="866.6" font-size="13.5" textLength="64.6" lengthAdjust="spacingAndGlyphs">government</text></g>
<g id="bl-parent-university"><circle cx="230.7" cy="897.3" r="5.8" fill="#ff1010"/><text class="s" x="188.3" y="899.2" font-size="10.8" textLength="73.7" lengthAdjust="spacingAndGlyphs">parent university</text></g>
<g id="bl-educational-administrative-organization"><circle cx="388.5" cy="888.4" r="8" fill="#f02020"/><text class="s" x="348.6" y="891.5" font-size="10.8" textLength="173.2" lengthAdjust="spacingAndGlyphs">educational administrative organization</text></g>
<g id="bl-development"><circle cx="307.3" cy="903.3" r="5.7" fill="#f02020" stroke="#111" stroke-width="0.8"/><text class="s" x="288" y="906.4" font-size="10.8" textLength="56" lengthAdjust="spacingAndGlyphs">development</text></g>
<g id="bl-school-running-mode"><circle cx="311.1" cy="933" r="7.7" fill="#f4503a" stroke="#333" stroke-width="0.6"/><text class="s" x="287" y="936.7" font-size="11" textLength="93" lengthAdjust="spacingAndGlyphs">school running mode</text></g>
<g id="bl-japan"><circle cx="577.8" cy="929.4" r="11.3" fill="#f4705a" stroke="#444" stroke-width="0.8"/><text class="s" x="557.2" y="934.2" font-size="16" textLength="36.8" lengthAdjust="spacingAndGlyphs">Japan</text></g>
<g id="bl-higher-education-popularization"><circle cx="368.3" cy="958.4" r="13" fill="#f4836c"/><text class="s" x="284.8" y="963.3" font-size="16.5" textLength="211" lengthAdjust="spacingAndGlyphs">higher education popularization</text></g>
<g id="bl-higher-education"><circle cx="536" cy="993.4" r="30.7" fill="#0088d2" stroke="#003366" stroke-width="4.6"/><text class="s" x="450.3" y="1006.7" font-size="33" textLength="222" lengthAdjust="spacingAndGlyphs">higher education</text></g>
<g id="bl-ordinary-colleges"><circle cx="262" cy="994.7" r="8" fill="#f4402a" stroke="#333" stroke-width="0.6"/><text class="s" x="184.8" y="998.3" font-size="13.5" textLength="183.2" lengthAdjust="spacingAndGlyphs">ordinary colleges and universities</text></g>
<g id="bl-teaching-quality"><circle cx="344" cy="1021.2" r="10" fill="#f4402a" stroke="#333" stroke-width="0.6"/><text class="s" x="291" y="1027.7" font-size="16" textLength="105" lengthAdjust="spacingAndGlyphs">teaching quality</text></g>

<!-- ================= BR CONNECTORS ================= -->
<g id="connectors-br">
<line class="gg" x1="1092.7" y1="639.5" x2="1350.8" y2="640.5"/>
<line class="gg" x1="1363.8" y1="654" x2="1368" y2="733" stroke-width="1.3"/>
<line x1="1291" y1="675" x2="1346" y2="743" stroke="#7c4a5f" stroke-width="1.6"/>
<line class="gg" x1="1363.8" y1="640.8" x2="1264.4" y2="719.3"/>
<line class="gg" x1="1363.8" y1="640.8" x2="1234" y2="778.2"/>
<line class="gg" x1="1280.3" y1="662" x2="1267.7" y2="893.5"/>
<line class="gg" x1="1280.3" y1="662" x2="1249.2" y2="861.2"/>
<line class="gg" x1="1196.4" y1="662.8" x2="1234" y2="778.2"/>
<line class="gg" x1="1196.4" y1="662.8" x2="1148.4" y2="700"/>
<line class="gg" x1="1196.4" y1="662.8" x2="1141.9" y2="736.6"/>
<line class="gg" x1="1148.4" y1="700" x2="1372.2" y2="772.2"/>
<line class="gg" x1="1141.9" y1="736.6" x2="1234" y2="778.2"/>
<line class="gg" x1="1264.4" y1="719.3" x2="1141.9" y2="736.6"/>
<line class="gg" x1="1264.4" y1="719.3" x2="1372.2" y2="772.2"/>
<line class="gg" x1="1234" y1="778.2" x2="1372.2" y2="778.2"/>
<line class="gg" x1="1174.8" y1="793.9" x2="1372.2" y2="772.2"/>
<line class="gg" x1="1234" y1="778.2" x2="1231.4" y2="939.7"/>
<line class="gg" x1="1065.6" y1="761.6" x2="1264.4" y2="719.3"/>
<line class="gg" x1="1065.6" y1="761.6" x2="1267.7" y2="893.5"/>
<line class="gg" x1="1372.2" y1="772.2" x2="1176" y2="868"/>
<line class="gg" x1="1372.2" y1="772.2" x2="1249.2" y2="861.2"/>
<line class="gg" x1="1372.2" y1="772.2" x2="1267.7" y2="893.5"/>
<line class="gg" x1="1372.2" y1="772.2" x2="1244" y2="973"/>
<line class="gg" x1="1350" y1="808" x2="1298.6" y2="1036.4" stroke-width="1.2"/>
<line class="gg" x1="1372.2" y1="772.2" x2="1085.5" y2="970"/>
<line class="gg" x1="873.6" y1="846.1" x2="1085.5" y2="970"/>
<line class="gg" x1="897.2" y1="904" x2="1040.8" y2="1016.7"/>
<line class="gg" x1="897.2" y1="904" x2="1085.5" y2="970"/>
<line class="gg" x1="965.6" y1="909.5" x2="1085.5" y2="970"/>
<line class="gg" x1="982.8" y1="968.4" x2="1118.3" y2="900.5"/>
<line class="gg" x1="982.8" y1="968.4" x2="1040.8" y2="1016.7"/>
<line class="gg" x1="1234" y1="778.2" x2="1085.5" y2="970"/>
<line class="gg" x1="1085.3" y1="704" x2="1141.9" y2="736.6"/>
<line class="gg" x1="1267.7" y1="893.5" x2="1085.5" y2="970"/>
<line class="gg" x1="1085.3" y1="704" x2="1234" y2="778.2"/>
<line class="gg" x1="873.6" y1="846.1" x2="1036.6" y2="903.5"/>
<line class="r2" x1="950.9" y1="721.4" x2="1085.3" y2="704"/>
<line class="r2" x1="950.9" y1="721.4" x2="1174.8" y2="793.9"/>
<line class="r2" x1="1085.3" y1="704" x2="994.3" y2="801.4"/>
<line class="r2" x1="1085.3" y1="704" x2="1174.8" y2="793.9"/>
<line class="r2" x1="994.3" y1="801.4" x2="1174.8" y2="793.9"/>
<line class="r2" x1="965.6" y1="909.5" x2="1036.6" y2="903.5"/>
<line class="r2" x1="965.6" y1="906" x2="1036.6" y2="902.5" stroke-width="1"/>
<line class="r2" x1="929.8" y1="927.7" x2="1036.6" y2="903.5" stroke-width="2"/>
<line class="r2" x1="1036.6" y1="903.5" x2="1085.5" y2="970" stroke-width="2"/>
<line class="r2" x1="1036.6" y1="903.5" x2="1122.4" y2="962.4" stroke-width="2"/>
<line class="r2" x1="1118.3" y1="900.5" x2="1085.5" y2="970"/>
<line class="r2" x1="1122.4" y1="962.4" x2="1244" y2="973"/>
<line class="r2" x1="1231.4" y1="939.7" x2="1267.7" y2="893.5" stroke-width="2.5"/>
<line class="r2" x1="1244" y1="973" x2="1231.4" y2="939.7"/>
<line class="r2" x1="1231.4" y1="939.7" x2="1298.6" y2="1036.4"/>
<line class="r2" x1="1267.7" y1="893.5" x2="1298.6" y2="1036.4"/>
<line class="r2" x1="1280.3" y1="662" x2="1363.8" y2="640.8" stroke-width="1.8"/>
<line class="rp" x1="1148.4" y1="700" x2="1141.9" y2="736.6" stroke-width="1.1"/>
<line class="rp" x1="1174.8" y1="793.9" x2="1176" y2="868"/>
<line class="rp" x1="1065.6" y1="761.6" x2="1118.3" y2="900.5"/>
<line class="rp" x1="1176" y1="868" x2="1036.6" y2="903.5"/>
<line class="rp" x1="918.8" y1="853.7" x2="1036.6" y2="903.5"/>
<line class="rp" x1="897.2" y1="904" x2="918.8" y2="853.7"/>
<line class="rp" x1="918.8" y1="853.7" x2="929.8" y2="927.7"/>
<line class="rp" x1="1118.3" y1="900.5" x2="1122.4" y2="962.4"/>
<line class="rp" x1="1085.5" y1="970" x2="1040.8" y2="1016.7"/>
<line class="rp" x1="1118.3" y1="900.5" x2="1231.4" y2="896" opacity="0.5"/>
</g>

<!-- ================= BR NODES ================= -->
<g id="br-higher-education"><circle cx="1372.2" cy="772.2" r="37.6" fill="#0088d2" stroke="#00335c" stroke-width="3.8"/><text class="d" x="1332.9" y="778.8" font-size="19" textLength="147.6" lengthAdjust="spacingAndGlyphs">higher education</text></g>
<g id="br-university-governance"><circle cx="1074" cy="639.3" r="18.7" fill="#fbb090" stroke="#7a7a7a" stroke-width="0.5"/><text class="d" x="982.8" y="649.2" font-size="18" textLength="191.4" lengthAdjust="spacingAndGlyphs">university governance</text></g>
<g id="br-usa"><circle cx="1280.3" cy="662" r="16.8" fill="#f4836c" stroke="#1a1a1a" stroke-width="0.9"/><text class="d" x="1260.6" y="669.5" font-size="19" textLength="44.4" lengthAdjust="spacingAndGlyphs">U.S.A</text></g>
<g id="br-japan"><circle cx="1363.8" cy="640.8" r="13" fill="#f4836c" stroke="#1a1a1a" stroke-width="0.9"/><text class="d" x="1340" y="646.8" font-size="19" textLength="49" lengthAdjust="spacingAndGlyphs">Japan</text></g>
<g id="br-node-a"><circle cx="1196.4" cy="662.8" r="7.3" fill="#e22a1a" stroke="#a01010" stroke-width="0.5"/></g>
<g id="br-node-b"><circle cx="1264.4" cy="719.3" r="7.2" fill="#d82418" stroke="#401010" stroke-width="1"/></g>
<g id="br-node-c"><rect x="1231" y="775.7" width="6" height="5" fill="#d01818"/></g>
<g id="br-node-d"><circle cx="1148.4" cy="700" r="5.5" fill="#e02a1a"/></g>
<g id="br-node-e"><circle cx="1141.9" cy="736.6" r="8.2" fill="#ee0f0f" stroke="#222" stroke-width="0.6"/></g>
<g id="br-node-f"><circle cx="1085.3" cy="704" r="6.5" fill="#e82a1a"/></g>
<g id="br-node-g"><circle cx="950.9" cy="721.4" r="5.8" fill="#ee1a1a" stroke="#333" stroke-width="0.6"/></g>
<g id="br-modern-university-system"><circle cx="1065.6" cy="761.6" r="15" fill="#f4836c" stroke="#777" stroke-width="0.5"/><text class="d" x="963" y="767.6" font-size="17" textLength="194" lengthAdjust="spacingAndGlyphs">modern university system</text></g>
<g id="br-talent-training"><circle cx="1033" cy="786.6" r="3.5" fill="#f4836c"/><text class="d" x="1014.4" y="791.8" font-size="12" textLength="77.3" lengthAdjust="spacingAndGlyphs">talent training</text></g>
<g id="br-node-h"><circle cx="994.3" cy="801.4" r="4.6" fill="#c8203a" stroke="#333" stroke-width="0.5"/></g>
<g id="br-node-i"><circle cx="1174.8" cy="793.9" r="7.6" fill="#f4836c" stroke="#555" stroke-width="0.5"/></g>
<g id="br-transfer"><circle cx="1176" cy="868" r="8.7" fill="#f4836c" stroke="#333" stroke-width="0.6"/><text class="d" x="1152.5" y="869.7" font-size="12" textLength="42" lengthAdjust="spacingAndGlyphs">transfer</text></g>
<g id="br-sustainable-development-talent-training-model"><circle cx="1249.2" cy="861.2" r="4.7" fill="#b01010"/><text class="d" x="1216.7" y="865" font-size="9.5" textLength="200.3" lengthAdjust="spacingAndGlyphs">sustainable development talent training model</text></g>
<g id="br-profitability"><circle cx="1267.7" cy="893.5" r="5.5" fill="#f02020"/><text class="d" x="1250" y="898.4" font-size="12" textLength="64.4" lengthAdjust="spacingAndGlyphs">profitability</text></g>
<g id="br-prc"><circle cx="873.6" cy="846.1" r="5.5" fill="#ee1a1a" stroke="#333" stroke-width="0.5"/><text class="d" x="827.7" y="850.6" font-size="14" textLength="194.3" lengthAdjust="spacingAndGlyphs">the People's Republic of China</text></g>
<g id="br-school-orientation"><circle cx="897.2" cy="904" r="9.2" fill="#ee1a1a" stroke="#333" stroke-width="0.6"/><text class="d" x="822.8" y="906.5" font-size="14" textLength="116.7" lengthAdjust="spacingAndGlyphs">school orientation</text></g>
<g id="br-node-j"><circle cx="965.6" cy="909.5" r="8" fill="#ee1a1a" stroke="#333" stroke-width="0.6"/></g>
<g id="br-node-k"><rect x="1034" y="902" width="5.5" height="3.2" fill="#f03030"/></g>
<g id="br-node-n"><rect x="1115.5" y="899" width="5.5" height="3.2" fill="#e02020"/></g>
<g id="br-private-college-teachers"><circle cx="982.8" cy="968.4" r="8" fill="#ee1a1a" stroke="#333" stroke-width="0.6"/><text class="d" x="900.6" y="976" font-size="14" textLength="152.4" lengthAdjust="spacingAndGlyphs">private college teachers</text></g>
<g id="br-public-college"><circle cx="1085.5" cy="970" r="8" fill="#ee1a1a" stroke="#333" stroke-width="0.6"/><text class="d" x="1065.6" y="978" font-size="14" textLength="90.6" lengthAdjust="spacingAndGlyphs">public college</text></g>
<g id="br-node-o"><ellipse cx="1122.4" cy="962.4" rx="5" ry="3.5" fill="#ee2020"/></g>
<g id="br-public-welfare"><circle cx="1244" cy="973" r="8.8" fill="#ee1a1a"/><text class="d" x="1201.5" y="980.5" font-size="14" textLength="93.8" lengthAdjust="spacingAndGlyphs">public welfare</text></g>
<g id="br-non-profit"><circle cx="1298.6" cy="1036.4" r="15.7" fill="#f4836c" stroke="#1a1a1a" stroke-width="0.9"/><text class="d" x="1260.6" y="1037.9" font-size="19" textLength="88" lengthAdjust="spacingAndGlyphs">non profit</text></g>
</g>
</svg>
